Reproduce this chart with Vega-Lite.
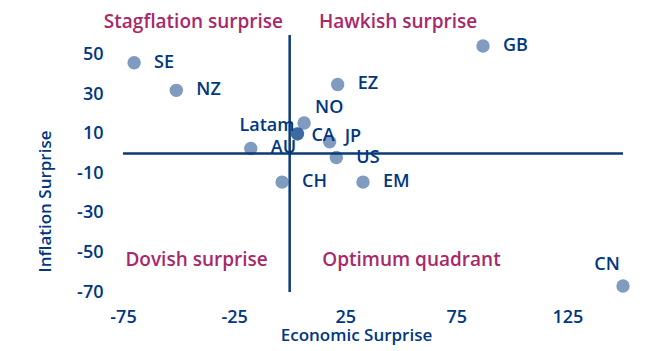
{
  "$schema": "https://vega.github.io/schema/vega-lite/v6.json",
  "width": 500,
  "height": 257,
  "autosize": {"type": "none"},
  "padding": {"left": 123, "top": 35, "right": 29, "bottom": 59},
  "background": "white",
  "config": {
    "view": {"stroke": null},
    "font": "Open Sans",
    "axis": {"grid": false, "domain": false, "ticks": false, "labelFont": "Open Sans", "labelFontSize": 18, "labelColor": "#003781", "titleFont": "Open Sans", "titleFontSize": 17, "titleColor": "#003781", "titleFontWeight": 600, "labelFontWeight": 600}
  },
  "datasets": {
    "pts": [
      {"country": "SE", "econ": -70, "infl": 46},
      {"country": "NZ", "econ": -51, "infl": 32},
      {"country": "Latam", "econ": 3.5, "infl": 10},
      {"country": "CA", "econ": 3.5, "infl": 10},
      {"country": "AU", "econ": -17.5, "infl": 2.6},
      {"country": "NO", "econ": 6.5, "infl": 15.5},
      {"country": "JP", "econ": 18, "infl": 6},
      {"country": "US", "econ": 21, "infl": -2},
      {"country": "EZ", "econ": 21.6, "infl": 35},
      {"country": "GB", "econ": 87, "infl": 54.4},
      {"country": "CH", "econ": -3.4, "infl": -14.4},
      {"country": "EM", "econ": 33, "infl": -14.4},
      {"country": "CN", "econ": 150, "infl": -67}
    ],
    "quads": [
      {"label": "Stagflation surprise", "econ": -43.3, "infl": 66.4},
      {"label": "Hawkish surprise", "econ": 48.8, "infl": 66.4},
      {"label": "Dovish surprise", "econ": -41.9, "infl": -53.8},
      {"label": "Optimum quadrant", "econ": 54.8, "infl": -53.8}
    ]
  },
  "layer": [
    {
      "data": {"name": "pts"},
      "mark": {"type": "circle", "size": 180, "color": "#003781", "opacity": 0.5},
      "encoding": {
        "x": {"field": "econ", "type": "quantitative", "scale": {"domain": [-75, 150], "nice": false, "zero": false},
          "axis": {"values": [-75, -25, 25, 75, 125], "labelExpr": "toString(datum.value)", "labelFlush": false, "title": "Economic Surprise", "labelPadding": 16, "titleX": 233, "titleY": 43, "titleBaseline": "middle", "titleAnchor": "middle"}},
        "y": {"field": "infl", "type": "quantitative", "scale": {"domain": [-70, 60], "nice": false, "zero": false},
          "axis": {"values": [50, 30, 10, -10, -30, -50, -70], "labelExpr": "toString(datum.value)", "labelFlush": false, "title": "Inflation Surprise", "labelPadding": 20, "titleX": -78, "titleY": 166, "titleBaseline": "middle", "titleAngle": -90}}
      }
    },
    {
      "data": {"values": [{}]},
      "mark": {"type": "rule", "color": "#0b3a75", "strokeWidth": 2.5},
      "encoding": {"x": {"datum": 0, "type": "quantitative"}}
    },
    {
      "data": {"values": [{}]},
      "mark": {"type": "rule", "color": "#0b3a75", "strokeWidth": 2.5},
      "encoding": {"y": {"datum": 0, "type": "quantitative"}}
    },
    {
      "data": {"name": "pts"},
      "transform": [{"filter": "indexof(['SE','NZ','AU','US','EZ','GB','CH','EM'], datum.country) >= 0"}],
      "mark": {"type": "text", "align": "left", "baseline": "middle", "dx": 20, "fontSize": 18, "font": "Open Sans", "fontWeight": 600, "color": "#003781"},
      "encoding": {"x": {"field": "econ", "type": "quantitative"}, "y": {"field": "infl", "type": "quantitative"}, "text": {"field": "country"}}
    },
    {
      "data": {"name": "pts"},
      "transform": [{"filter": "datum.country === 'NO'"}],
      "mark": {"type": "text", "align": "left", "baseline": "middle", "dx": 11, "dy": -15, "fontSize": 18, "font": "Open Sans", "fontWeight": 600, "color": "#003781"},
      "encoding": {"x": {"field": "econ", "type": "quantitative"}, "y": {"field": "infl", "type": "quantitative"}, "text": {"field": "country"}}
    },
    {
      "data": {"name": "pts"},
      "transform": [{"filter": "datum.country === 'CA'"}],
      "mark": {"type": "text", "align": "left", "baseline": "middle", "dx": 14, "dy": 2, "fontSize": 18, "font": "Open Sans", "fontWeight": 600, "color": "#003781"},
      "encoding": {"x": {"field": "econ", "type": "quantitative"}, "y": {"field": "infl", "type": "quantitative"}, "text": {"field": "country"}}
    },
    {
      "data": {"name": "pts"},
      "transform": [{"filter": "datum.country === 'JP'"}],
      "mark": {"type": "text", "align": "left", "baseline": "middle", "dx": 15, "dy": -5, "fontSize": 18, "font": "Open Sans", "fontWeight": 600, "color": "#003781"},
      "encoding": {"x": {"field": "econ", "type": "quantitative"}, "y": {"field": "infl", "type": "quantitative"}, "text": {"field": "country"}}
    },
    {
      "data": {"name": "pts"},
      "transform": [{"filter": "datum.country === 'Latam'"}],
      "mark": {"type": "text", "align": "right", "baseline": "middle", "dx": -3, "dy": -8, "fontSize": 18, "font": "Open Sans", "fontWeight": 600, "color": "#003781"},
      "encoding": {"x": {"field": "econ", "type": "quantitative"}, "y": {"field": "infl", "type": "quantitative"}, "text": {"field": "country"}}
    },
    {
      "data": {"name": "pts"},
      "transform": [{"filter": "datum.country === 'CN'"}],
      "mark": {"type": "text", "align": "center", "baseline": "middle", "dx": -16, "dy": -21, "fontSize": 18, "font": "Open Sans", "fontWeight": 600, "color": "#003781"},
      "encoding": {"x": {"field": "econ", "type": "quantitative"}, "y": {"field": "infl", "type": "quantitative"}, "text": {"field": "country"}}
    },
    {
      "data": {"name": "quads"},
      "mark": {"type": "text", "align": "center", "baseline": "middle", "fontSize": 19, "font": "Open Sans", "fontWeight": 600, "color": "#a8286a"},
      "encoding": {"x": {"field": "econ", "type": "quantitative"}, "y": {"field": "infl", "type": "quantitative"}, "text": {"field": "label"}}
    }
  ]
}
